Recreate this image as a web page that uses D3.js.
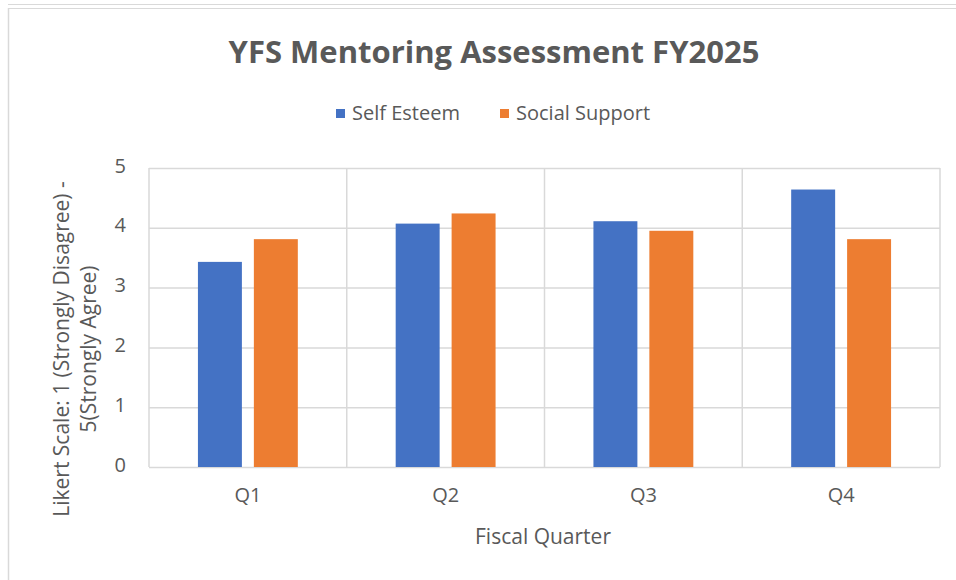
<!DOCTYPE html>
<html>
<head>
<meta charset="utf-8">
<script src="https://cdn.jsdelivr.net/npm/d3@7"></script>
<style>
  body { margin: 0; background: #fff; }
  svg text { font-family: "Open Sans", "Noto Sans", sans-serif; fill: #595959; }
</style>
</head>
<body>
<svg id="chart" width="956" height="580"></svg>
<script>
// data
var quarters = ["Q1", "Q2", "Q3", "Q4"];
var seriesNames = ["Self Esteem", "Social Support"];
var selfEsteem = [3.43, 4.07, 4.11, 4.64];
var socialSupport = [3.81, 4.24, 3.95, 3.81];
var yTicks = [0, 1, 2, 3, 4, 5];

var colors = {"Self Esteem": "#4472C4", "Social Support": "#ED7D31"};

var margin = {top: 168, right: 16, bottom: 113, left: 149},
    width = 956 - margin.left - margin.right,
    height = 580 - margin.top - margin.bottom;

var rows = quarters.map(function(q, i) {
  return {q: q, vals: [
    {name: seriesNames[0], v: selfEsteem[i]},
    {name: seriesNames[1], v: socialSupport[i]}
  ]};
});

var svg = d3.select("#chart");

// outer frame lines like the screenshot
svg.append("line").attr("x1", 8).attr("x2", 956).attr("y1", 4.5).attr("y2", 4.5)
  .attr("stroke", "#d9d9d9").attr("stroke-width", 1);
svg.append("line").attr("x1", 8).attr("x2", 956).attr("y1", 8.5).attr("y2", 8.5)
  .attr("stroke", "#d9d9d9").attr("stroke-width", 1);
svg.append("line").attr("x1", 8.5).attr("x2", 8.5).attr("y1", 8).attr("y2", 580)
  .attr("stroke", "#d9d9d9").attr("stroke-width", 1.5);

var g = svg.append("g")
  .attr("transform", "translate(" + margin.left + "," + margin.top + ")");

var x0 = d3.scaleBand().domain(quarters).range([0, width]).padding(0);
var x1 = d3.scaleBand().domain(seriesNames).range([0, x0.bandwidth()])
  .paddingInner(0.214).paddingOuter(0.875);
var y = d3.scaleLinear().domain([0, 5]).range([height, 0]);

// horizontal grid
g.append("g")
  .call(d3.axisLeft(y).tickValues(yTicks).tickSize(-width).tickFormat(""))
  .call(function(s) { s.select(".domain").remove(); })
  .selectAll("line").attr("stroke", "#d9d9d9").attr("stroke-width", 1.5);

// vertical category separators
g.append("g").selectAll("line")
  .data(quarters.concat(["end"]))
  .enter().append("line")
    .attr("x1", function(d, i) { return i * x0.step(); })
    .attr("x2", function(d, i) { return i * x0.step(); })
    .attr("y1", 0).attr("y2", height)
    .attr("stroke", "#d9d9d9").attr("stroke-width", 1.5);

// y tick labels
g.append("g")
  .call(d3.axisLeft(y).tickValues(yTicks).tickSize(0).tickPadding(23).tickFormat(d3.format("d")))
  .call(function(s) { s.select(".domain").remove(); })
  .selectAll("text")
    .attr("font-size", 20).attr("fill", "#595959").attr("dy", "0.2em")
    .style("font-family", "'Open Sans', sans-serif");

// x tick labels
g.append("g")
  .attr("transform", "translate(0," + height + ")")
  .call(d3.axisBottom(x0).tickSize(0).tickPadding(21))
  .call(function(s) { s.select(".domain").remove(); })
  .selectAll("text")
    .attr("font-size", 20).attr("fill", "#595959")
    .style("font-family", "'Open Sans', sans-serif");

// bars
var groups = g.selectAll(".grp")
  .data(rows)
  .enter().append("g")
    .attr("class", "grp")
    .attr("transform", function(d) { return "translate(" + x0(d.q) + ",0)"; });

groups.selectAll("rect")
  .data(function(d) { return d.vals; })
  .enter().append("rect")
    .attr("x", function(d) { return x1(d.name); })
    .attr("y", function(d) { return y(d.v); })
    .attr("width", x1.bandwidth())
    .attr("height", function(d) { return height - y(d.v); })
    .attr("fill", function(d) { return colors[d.name]; });

// title
svg.append("text")
  .attr("x", 494).attr("y", 63)
  .attr("text-anchor", "middle")
  .attr("font-size", 31).attr("font-weight", "bold")
  .text("YFS Mentoring Assessment FY2025");

// legend
var legend = svg.append("g").attr("transform", "translate(336,0)");
var legX = [0, 164];
seriesNames.forEach(function(n, i) {
  legend.append("rect")
    .attr("x", legX[i]).attr("y", 109).attr("width", 9).attr("height", 9)
    .attr("fill", colors[n]);
  legend.append("text")
    .attr("x", legX[i] + 16).attr("y", 120)
    .attr("font-size", 20)
    .text(n);
});

// axis titles
svg.append("text")
  .attr("x", 543).attr("y", 544)
  .attr("text-anchor", "middle")
  .attr("font-size", 21)
  .text("Fiscal Quarter");

var yt = svg.append("text")
  .attr("transform", "translate(0,349) rotate(-90)")
  .attr("text-anchor", "middle")
  .attr("font-size", 21);
yt.append("tspan").attr("x", 0).attr("y", 69).text("Likert Scale: 1 (Strongly Disagree) -");
yt.append("tspan").attr("x", 0).attr("y", 96).text("5(Strongly Agree)");
</script>
</body>
</html>
